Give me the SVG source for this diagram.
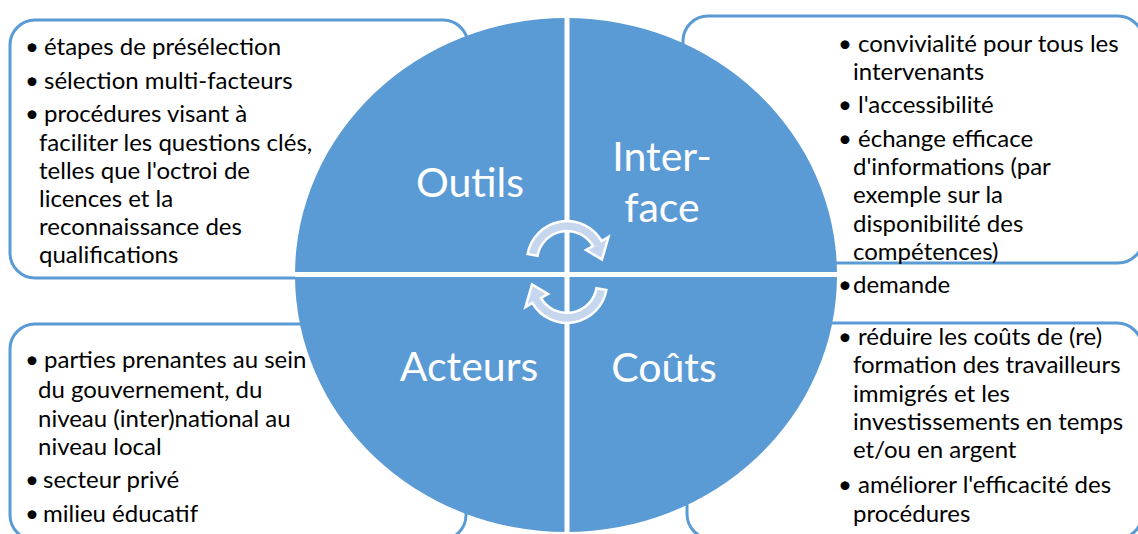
<svg xmlns="http://www.w3.org/2000/svg" width="1138" height="534" viewBox="0 0 1138 534">
<style>
.box{fill:#ffffff;stroke:#5B9BD5;stroke-width:3}
.t{font-family:Lato,"Liberation Sans",sans-serif;font-size:24px;fill:#000000}
.lbl{font-family:Lato,"Liberation Sans",sans-serif;font-size:41px;fill:#ffffff;text-anchor:middle}
.arr{fill:#C5D6EE;stroke:#ffffff;stroke-width:2.5;stroke-linejoin:miter}
.gap{stroke:#ffffff;stroke-width:5}
</style>
<defs>
<clipPath id="cc"><ellipse cx="566" cy="275" rx="271" ry="257"/></clipPath>
<path id="ca" d="M 527.6 254.1 A 40 40 0 0 1 601.6 241 L 608.5 237 L 602 259.5 L 586 250 L 593 246 A 30 30 0 0 0 537.5 255.8 Z"/>
</defs>
<g id="box-outils"><rect class="box" x="10" y="20" width="458" height="258" rx="25"/></g>
<g id="box-interface"><rect class="box" x="683" y="16" width="460" height="247" rx="25"/></g>
<g id="box-acteurs"><rect class="box" x="10" y="324" width="456" height="216" rx="25"/></g>
<g id="box-couts"><rect class="box" x="687" y="323" width="455" height="216" rx="25"/></g>
<g id="circle">
<ellipse cx="566" cy="275" rx="271" ry="257" fill="#5B9BD5"/>
<g clip-path="url(#cc)">
<line class="gap" x1="567" y1="0" x2="567" y2="534"/>
<line class="gap" x1="280" y1="274.5" x2="850" y2="274.5"/>
</g>
</g>
<g id="node-outils"><text class="lbl" x="470" y="197">Outils</text></g>
<g id="node-interface"><text class="lbl" x="662" y="171">Inter-</text><text class="lbl" x="662" y="222">face</text></g>
<g id="node-acteurs"><text class="lbl" x="469" y="381">Acteurs</text></g>
<g id="node-couts"><text class="lbl" x="664" y="382">Coûts</text></g>
<g id="connectors">
<use href="#ca" class="arr"/>
<use href="#ca" class="arr" transform="rotate(180 567 272)"/>
</g>
<g id="text-outils">
<text class="t" x="25" y="55">•</text><text class="t" x="44" y="55">étapes de présélection</text>
<text class="t" x="25" y="89">•</text><text class="t" x="44" y="89">sélection multi-facteurs</text>
<text class="t" x="25" y="122">•</text><text class="t" x="44" y="122">procédures visant à</text>
<text class="t" x="39" y="151">faciliter les questions clés,</text>
<text class="t" x="39" y="179">telles que l'octroi de</text>
<text class="t" x="39" y="207">licences et la</text>
<text class="t" x="39" y="235">reconnaissance des</text>
<text class="t" x="39" y="263">qualifications</text>
</g>
<g id="text-interface">
<text class="t" x="838" y="52">•</text><text class="t" x="858" y="52">convivialité pour tous les</text>
<text class="t" x="853" y="80">intervenants</text>
<text class="t" x="838" y="113">•</text><text class="t" x="858" y="113">l'accessibilité</text>
<text class="t" x="838" y="147">•</text><text class="t" x="858" y="147">échange efficace</text>
<text class="t" x="853" y="175">d'informations (par</text>
<text class="t" x="853" y="203">exemple sur la</text>
<text class="t" x="853" y="232">disponibilité des</text>
<text class="t" x="853" y="260">compétences)</text>
<text class="t" x="838" y="293">•</text><text class="t" x="853" y="293">demande</text>
</g>
<g id="text-acteurs">
<text class="t" x="25" y="368">•</text><text class="t" x="44" y="368">parties prenantes au sein</text>
<text class="t" x="38" y="398">du gouvernement, du</text>
<text class="t" x="38" y="427">niveau (inter)national au</text>
<text class="t" x="38" y="455">niveau local</text>
<text class="t" x="25" y="488">•</text><text class="t" x="43" y="488">secteur privé</text>
<text class="t" x="25" y="522">•</text><text class="t" x="43" y="522">milieu éducatif</text>
</g>
<g id="text-couts">
<text class="t" x="838" y="345">•</text><text class="t" x="858" y="345">réduire les coûts de (re)</text>
<text class="t" x="853" y="373">formation des travailleurs</text>
<text class="t" x="853" y="402">immigrés et les</text>
<text class="t" x="853" y="430">investissements en temps</text>
<text class="t" x="853" y="458">et/ou en argent</text>
<text class="t" x="838" y="493">•</text><text class="t" x="858" y="493">améliorer l'efficacité des</text>
<text class="t" x="853" y="522">procédures</text>
</g>
</svg>
